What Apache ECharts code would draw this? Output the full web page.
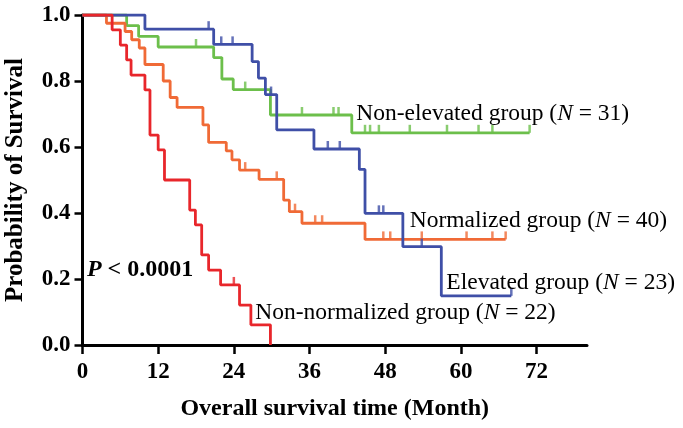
<!DOCTYPE html>
<html><head><meta charset="utf-8">
<script src="https://cdn.jsdelivr.net/npm/echarts@6/dist/echarts.min.js"></script>
<style>html,body{margin:0;padding:0;background:#fff}#c{width:683px;height:428px}</style>
</head><body><div id="c"></div>
<script>
// ---- data ----
const xTicks = [0, 12, 24, 36, 48, 60, 72];
const yTicks = [0, 0.2, 0.4, 0.6, 0.8, 1.0];

const redTimes = [0, 4.7, 6.0, 7.0, 7.7, 9.9, 10.7, 12.0, 13.0, 17.0, 17.9, 18.9, 20.0, 21.9, 24.9, 26.7, 29.8];
const redSurv  = [1, 0.955, 0.909, 0.864, 0.818, 0.773, 0.636, 0.591, 0.5, 0.409, 0.364, 0.273, 0.227, 0.182, 0.121, 0.061, 0];
const redCensorTimes = [24.0];
const redCensorSurv  = [0.182];

const orangeTimes = [0, 3.8, 6.75, 7.8, 9.0, 9.9, 12.8, 13.9, 15.0, 19.1, 20.0, 22.8, 23.7, 24.9, 28.0, 31.9, 32.8, 34.8, 44.8, 67.1];
const orangeSurv  = [1, 0.975, 0.95, 0.925, 0.90, 0.85, 0.80, 0.75, 0.72, 0.667, 0.614, 0.588, 0.561, 0.530, 0.502, 0.439, 0.404, 0.369, 0.32, 0.32];
const orangeCensorTimes = [25.8, 30.8, 33.7, 36.9, 38.0, 47.7, 48.8, 53.8, 60.9, 65.0, 67.1];
const orangeCensorSurv  = [0.530, 0.502, 0.404, 0.369, 0.369, 0.32, 0.32, 0.32, 0.32, 0.32, 0.32];

const greenTimes = [0, 7.0, 8.9, 12.0, 20.8, 22.1, 23.9, 29.8, 42.7, 70.9];
const greenSurv  = [1, 0.968, 0.935, 0.903, 0.871, 0.806, 0.774, 0.697, 0.643, 0.643];
const greenCensorTimes = [18.0, 25.8, 34.8, 39.8, 40.6, 44.8, 45.6, 47.0, 51.9, 57.8, 62.8, 65.0, 70.9];
const greenCensorSurv  = [0.903, 0.774, 0.697, 0.697, 0.697, 0.643, 0.643, 0.643, 0.643, 0.643, 0.643, 0.643, 0.643];

const blueTimes = [0, 9.9, 20.8, 26.9, 27.9, 29.0, 30.8, 36.7, 43.9, 44.8, 50.8, 56.9, 68.0];
const blueSurv  = [1, 0.957, 0.911, 0.859, 0.809, 0.759, 0.652, 0.594, 0.532, 0.399, 0.298, 0.149, 0.149];
const blueCensorTimes = [20.0, 22.0, 23.8, 29.9, 38.9, 40.8, 47.0, 47.7, 53.8, 68.0];
const blueCensorSurv  = [0.957, 0.911, 0.911, 0.759, 0.594, 0.594, 0.399, 0.399, 0.298, 0.149];

const groupNames = ['Non-elevated group', 'Normalized group', 'Elevated group', 'Non-normalized group'];
const groupN = [31, 40, 23, 22];
const pText = '0.0001';

// ---- styling ----
const C = {red: '#E8262B', orange: '#F06A36', green: '#6CBF4B', blue: '#3F4FA7'};
const FONT = '"Liberation Serif", "Times New Roman", serif';
const zip = (a, b) => a.map((v, i) => [v, b[i]]);

function lineSeries(t, s, color, z) {
  return {type: 'line', step: 'end', data: zip(t, s), symbol: 'none', z: z,
    lineStyle: {color: color, width: 2.8}, silent: true, animation: false};
}
function censorSeries(t, s, color, z) {
  return {type: 'scatter', data: zip(t, s), symbol: 'rect', symbolSize: [2.5, 8],
    symbolOffset: [0, -4], itemStyle: {color: color}, z: z, silent: true, animation: false};
}

const chart = echarts.init(document.getElementById('c'), null, {renderer: 'canvas'});
chart.setOption({
  backgroundColor: '#fff',
  animation: false,
  grid: {left: 82.5, right: 96, top: 15, bottom: 83, containLabel: false, outerBoundsMode: 'none'},
  xAxis: {
    type: 'value', min: 0, max: 80, interval: 12,
    name: 'Overall survival time (Month)', nameLocation: 'middle', nameGap: 52,
    nameTextStyle: {fontFamily: FONT, fontWeight: 'bold', fontSize: 24, color: '#000'},
    axisLine: {show: true, onZero: false, lineStyle: {color: '#000', width: 3}},
    axisTick: {show: true, inside: false, length: 9, lineStyle: {color: '#000', width: 2.5}, customValues: xTicks},
    axisLabel: {margin: 16, fontFamily: FONT, fontWeight: 'bold', fontSize: 23, color: '#000', customValues: xTicks},
    splitLine: {show: false}
  },
  yAxis: {
    type: 'value', min: 0, max: 1, interval: 0.2,
    name: 'Probability of Survival', nameLocation: 'middle', nameGap: 54, nameRotate: 90,
    nameTextStyle: {fontFamily: FONT, fontWeight: 'bold', fontSize: 25, color: '#000'},
    axisLine: {show: true, onZero: false, lineStyle: {color: '#000', width: 3}},
    axisTick: {show: true, inside: false, length: 8, lineStyle: {color: '#000', width: 2.5}, customValues: yTicks},
    axisLabel: {margin: 12, fontFamily: FONT, fontWeight: 'bold', fontSize: 23, color: '#000',
      customValues: yTicks, formatter: v => v.toFixed(1)},
    splitLine: {show: false}
  },
  series: [
    lineSeries(greenTimes, greenSurv, C.green, 2),
    censorSeries(greenCensorTimes, greenCensorSurv, C.green, 2),
    lineSeries(orangeTimes, orangeSurv, C.orange, 3),
    censorSeries(orangeCensorTimes, orangeCensorSurv, C.orange, 3),
    lineSeries(blueTimes, blueSurv, C.blue, 4),
    censorSeries(blueCensorTimes, blueCensorSurv, C.blue, 4),
    lineSeries(redTimes, redSurv, C.red, 5),
    censorSeries(redCensorTimes, redCensorSurv, C.red, 5)
  ]
});

// annotation anchors (data coords of left/middle of each label)
const anchors = [[43.4, 0.70], [51.9, 0.376], [57.7, 0.188], [27.4, 0.097]];
const rich = {
  r: {fontFamily: FONT, fontSize: 23.5, fill: '#000'},
  i: {fontFamily: FONT, fontSize: 23.5, fontStyle: 'italic', fill: '#000'},
  bi: {fontFamily: FONT, fontSize: 24, fontStyle: 'italic', fontWeight: 'bold', fill: '#000'},
  b: {fontFamily: FONT, fontSize: 24, fontWeight: 'bold', fill: '#000'}
};
const graphics = groupNames.map((name, k) => {
  const p = chart.convertToPixel({gridIndex: 0}, anchors[k]);
  return {type: 'text', x: p[0], y: p[1], z: 10,
    style: {text: '{r|' + name + ' (}{i|N}{r| = ' + groupN[k] + ')}', rich: rich,
      align: 'left', verticalAlign: 'middle'}};
});
const pp = chart.convertToPixel({gridIndex: 0}, [0.7, 0.229]);
graphics.push({type: 'text', x: pp[0], y: pp[1], z: 10,
  style: {text: '{bi|P}{b| < ' + pText + '}', rich: rich, align: 'left', verticalAlign: 'middle'}});
chart.setOption({graphic: graphics});
</script>
</body></html>
